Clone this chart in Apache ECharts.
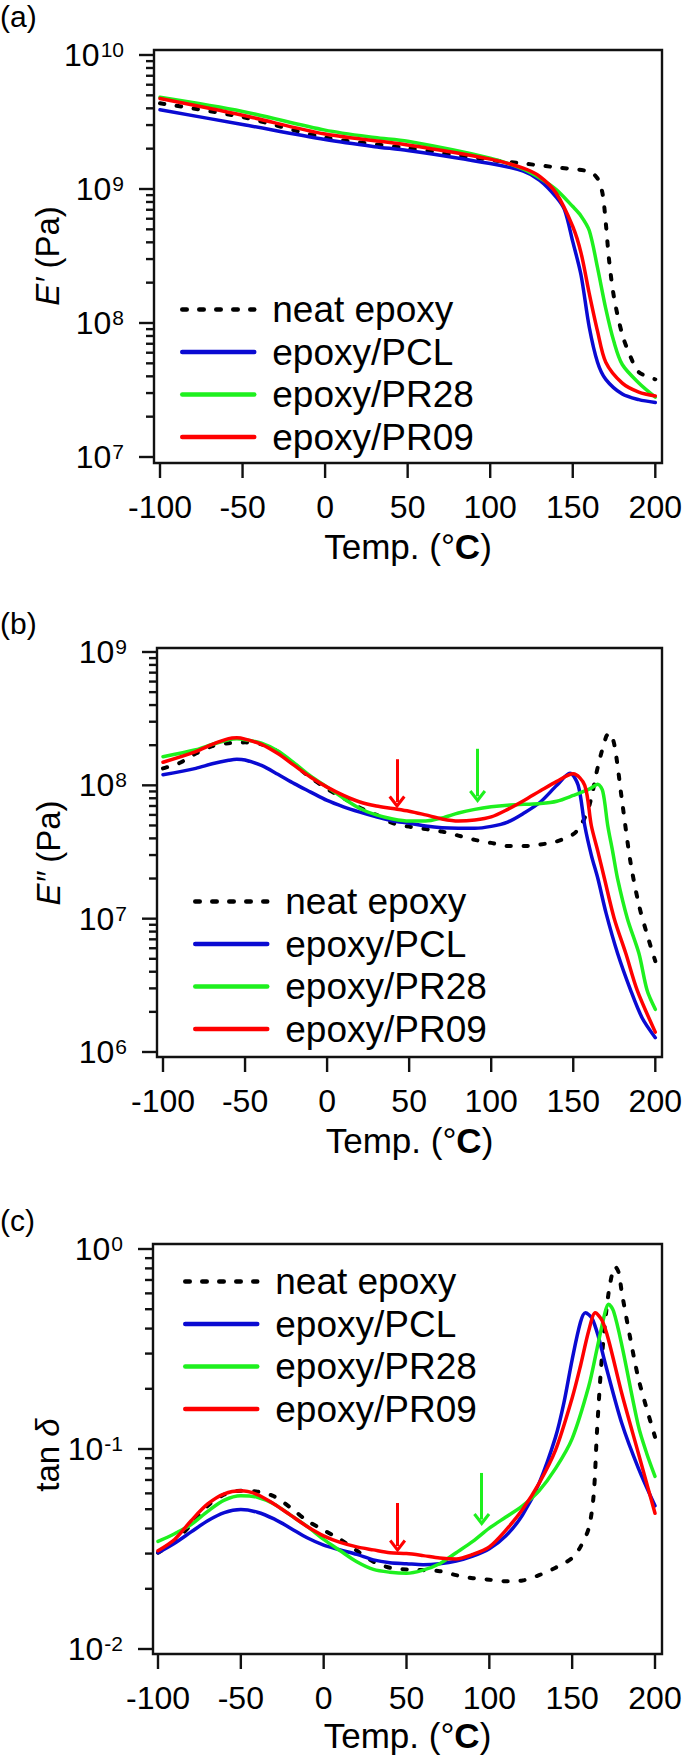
<!DOCTYPE html>
<html><head><meta charset="utf-8">
<script src="https://cdn.jsdelivr.net/npm/echarts@6/dist/echarts.min.js"></script>
<style>html,body{margin:0;padding:0;background:#fff}#c{width:685px;height:1759px}</style>
</head><body><div id="c"></div><script>
const FONT = '"Liberation Sans", Arial, Helvetica, sans-serif';
const seriesNames = ['neat epoxy', 'epoxy/PCL', 'epoxy/PR28', 'epoxy/PR09'];
const xTicks = [-100, -50, 0, 50, 100, 150, 200];
const aYTicks = [1e7, 1e8, 1e9, 1e10];
const bYTicks = [1e6, 1e7, 1e8, 1e9];
const cYTicks = [1e-2, 1e-1, 1e0];

// ---- (a) storage modulus E' (Pa)
const aNeatT = [-100,-50,0,50,100,120,140,160,165,168,170,172,175,180,185,190,200];
const aNeatV = [4.36e9,3.44e9,2.42e9,2.02e9,1.65e9,1.55e9,1.45e9,1.35e9,1.2e9,9.3e8,5.6e8,2.95e8,1.55e8,8.2e7,5.6e7,4.3e7,3.8e7];
const aPCLT = [-100,-50,0,30,50,100,120,130,140,145,150,155,160,165,170,180,190,200];
const aPCLV = [3.9e9,3.03e9,2.34e9,2.07e9,1.94e9,1.55e9,1.36e9,1.16e9,8.7e8,7.0e8,4.05e8,2.28e8,9.3e7,5.1e7,3.8e7,2.95e7,2.68e7,2.55e7];
const aPR28T = [-100,-50,0,30,50,100,120,130,140,150,155,160,165,170,175,180,190,200];
const aPR28V = [4.83e9,3.79e9,2.75e9,2.42e9,2.27e9,1.70e9,1.41e9,1.21e9,9.9e8,7.4e8,6.3e8,4.9e8,2.59e8,1.28e8,7.2e7,4.9e7,3.57e7,2.8e7];
const aPR09T = [-100,-50,0,50,100,120,130,140,150,155,160,165,170,180,190,200];
const aPR09V = [4.73e9,3.55e9,2.57e9,2.13e9,1.67e9,1.43e9,1.24e9,9.3e8,5.25e8,3.34e8,1.66e8,8.7e7,5.1e7,3.56e7,3.05e7,2.85e7];

// ---- (b) loss modulus E'' (Pa)
const bNeatT = [-100,-90,-80,-70,-60,-50,-40,-30,-20,-10,0,10,20,30,40,50,60,70,80,90,100,110,120,130,140,150,155,160,165,170,172,175,180,185,190,195,200];
const bNeatV = [1.34e8,1.47e8,1.73e8,1.97e8,2.07e8,2.1e8,2.03e8,1.79e8,1.43e8,1.14e8,9.4e7,8.0e7,6.8e7,6.0e7,5.2e7,4.9e7,4.7e7,4.5e7,4.2e7,3.9e7,3.7e7,3.5e7,3.5e7,3.6e7,3.8e7,4.3e7,5.1e7,7.2e7,1.38e8,2.31e8,2.47e8,2.03e8,7.2e7,2.6e7,1.27e7,7.6e6,4.8e6];
const bPCLT = [-100,-80,-70,-60,-55,-50,-40,-30,-20,-10,0,10,20,30,40,50,60,70,80,90,100,110,120,130,140,148,153,157,161,165,170,177,185,192,200];
const bPCLV = [1.2e8,1.34e8,1.45e8,1.54e8,1.57e8,1.55e8,1.41e8,1.21e8,1.03e8,8.9e7,7.7e7,6.9e7,6.3e7,5.8e7,5.4e7,5.2e7,4.95e7,4.8e7,4.76e7,4.76e7,4.92e7,5.3e7,6.2e7,7.5e7,1.0e8,1.23e8,1.0e8,5.0e7,3.0e7,2.0e7,1.1e7,5.5e6,2.9e6,1.8e6,1.28e6];
const bPR28T = [-100,-80,-70,-60,-55,-50,-40,-30,-20,-10,0,10,20,30,40,50,60,70,80,90,100,110,120,130,140,150,160,165,168,171,174,177,183,190,195,200];
const bPR28V = [1.64e8,1.85e8,2.03e8,2.2e8,2.24e8,2.2e8,2.07e8,1.81e8,1.47e8,1.17e8,9.7e7,8.0e7,6.7e7,6.0e7,5.6e7,5.4e7,5.4e7,5.7e7,6.2e7,6.6e7,6.9e7,7.1e7,7.2e7,7.3e7,7.6e7,8.4e7,9.4e7,1.02e8,9.0e7,5.0e7,3.2e7,2.0e7,1.0e7,5.5e6,2.9e6,2.09e6];
const bPR09T = [-100,-80,-70,-60,-55,-50,-40,-30,-20,-10,0,10,20,30,40,50,60,70,80,90,100,110,120,130,140,150,157,161,165,169,175,182,189,200];
const bPR09V = [1.49e8,1.79e8,2.03e8,2.24e8,2.27e8,2.22e8,2.03e8,1.73e8,1.41e8,1.15e8,9.7e7,8.4e7,7.5e7,7.0e7,6.7e7,6.4e7,6.0e7,5.6e7,5.4e7,5.5e7,5.8e7,6.6e7,7.7e7,9.1e7,1.07e8,1.22e8,1.0e8,5.0e7,3.2e7,2.0e7,1.0e7,5.5e6,2.9e6,1.41e6];
const bArrowRed = [42.6, 1.57e8, 7.5e7];
const bArrowGreen = [91.7, 1.88e8, 8.26e7];

// ---- (c) tan delta
const cNeatT = [-100,-90,-80,-70,-60,-50,-40,-30,-20,-10,0,10,20,30,40,50,60,70,80,90,100,110,120,130,140,150,155,160,163,165,168,172,176,178,180,185,190,195,200];
const cNeatV = [0.0303,0.0345,0.0419,0.052,0.0592,0.0618,0.0612,0.058,0.0509,0.0438,0.0393,0.0353,0.031,0.0273,0.0255,0.025,0.0248,0.0245,0.0234,0.0226,0.0222,0.0218,0.022,0.0234,0.0255,0.0285,0.0324,0.0402,0.0592,0.123,0.291,0.604,0.817,0.766,0.604,0.36,0.225,0.159,0.115];
const cPCLT = [-100,-90,-80,-70,-60,-50,-40,-30,-20,-10,0,10,20,30,40,50,60,70,80,90,100,110,120,130,140,145,150,155,158,162,166,170,180,190,200];
const cPCLV = [0.0303,0.0338,0.0385,0.0438,0.0481,0.0498,0.0483,0.0447,0.0402,0.036,0.0331,0.0313,0.0297,0.0279,0.027,0.0267,0.0264,0.0267,0.0275,0.0291,0.0317,0.0368,0.0467,0.0673,0.115,0.17,0.28,0.43,0.48,0.45,0.36,0.267,0.134,0.08,0.052];
const cPR28T = [-100,-90,-80,-70,-60,-50,-40,-30,-20,-10,0,10,20,30,40,50,60,70,80,90,100,110,120,130,140,150,160,165,170,172,175,180,190,195,200];
const cPR28V = [0.0345,0.0377,0.0419,0.0488,0.0555,0.0584,0.0574,0.0531,0.0467,0.041,0.0353,0.031,0.0273,0.025,0.0242,0.0239,0.0248,0.0267,0.0303,0.0345,0.0402,0.0457,0.052,0.0618,0.08,0.1128,0.206,0.317,0.488,0.53,0.488,0.33,0.13,0.095,0.073];
const cPR09T = [-100,-90,-80,-70,-60,-50,-40,-30,-20,-10,0,10,20,30,40,50,60,70,80,90,100,110,120,130,140,150,155,160,164,168,172,180,190,200];
const cPR09V = [0.031,0.0353,0.0438,0.0531,0.0597,0.0618,0.0592,0.0531,0.0467,0.041,0.0368,0.0341,0.0324,0.0313,0.0303,0.03,0.0293,0.0285,0.0282,0.0297,0.0324,0.0393,0.0498,0.0673,0.099,0.18,0.26,0.39,0.48,0.44,0.35,0.189,0.095,0.0477];
const cArrowRed = [44.6, 0.0537, 0.0327];
const cArrowGreen = [95.4, 0.0759, 0.0444];

const STY = {
  'neat epoxy': {color: '#000000', width: 4, type: [4.5, 12.5], cap: 'round'},
  'epoxy/PCL': {color: '#0a0ad2', width: 3.5, type: 'solid', cap: 'round'},
  'epoxy/PR28': {color: '#1ef01e', width: 3.5, type: 'solid', cap: 'round'},
  'epoxy/PR09': {color: '#ff0000', width: 3.5, type: 'solid', cap: 'round'}
};

const panels = [
  {frame: [154, 50, 508, 413], grid: {left: 160, top: 55, width: 498, height: 402}, yMin: 1e7, yMax: 1e10, yTicks: aYTicks,
   label: ['(a)', 16], yTitle: ['{i|E′} (Pa)', 47, 256], xTitleY: 546, legend: [180, 291],
   data: [[aNeatT, aNeatV], [aPCLT, aPCLV], [aPR28T, aPR28V], [aPR09T, aPR09V]]},
  {frame: [157, 648, 505, 409], grid: {left: 163, top: 652, width: 494, height: 400}, yMin: 1e6, yMax: 1e9, yTicks: bYTicks,
   label: ['(b)', 623], yTitle: ['{i|E″} (Pa)', 48, 853], xTitleY: 1140, legend: [193, 883],
   data: [[bNeatT, bNeatV], [bPCLT, bPCLV], [bPR28T, bPR28V], [bPR09T, bPR09V]], arrows: [bArrowRed, bArrowGreen]},
  {frame: [153, 1244, 509, 410], grid: {left: 158, top: 1249, width: 497, height: 400}, yMin: 1e-2, yMax: 1e0, yTicks: cYTicks,
   label: ['(c)', 1220], yTitle: ['tan {i|δ}', 47, 1455], xTitleY: 1735, legend: [183, 1263],
   data: [[cNeatT, cNeatV], [cPCLT, cPCLV], [cPR28T, cPR28V], [cPR09T, cPR09V]], arrows: [cArrowRed, cArrowGreen]}
];

function minorTicks(ticks) {
  const out = [];
  for (let i = 0; i < ticks.length - 1; i++) for (let k = 2; k <= 9; k++) out.push(+(k * ticks[i]).toPrecision(6));
  return out;
}
const CHEVRON = 'path://M10,0 L20,11 L17.2,13 L10,5.2 L2.8,13 L0,11 Z';
const INK = '#111111', INK_W = 2.4;

// frame + ticks drawn by a custom series, positions taken from the axes' own scales
function frameSeries(p, i) {
  return {type: 'custom', xAxisIndex: i, yAxisIndex: i, silent: true, clip: false, z: 20,
    data: [[p.data[0][0][0], p.yMin]],
    renderItem: (params, api) => {
      const [fx, fy, fw, fh] = p.frame;
      const ln = (x1, y1, x2, y2) => ({type: 'line', shape: {x1, y1, x2, y2}, style: {stroke: INK, lineWidth: INK_W, fill: null}});
      const ch = [{type: 'rect', shape: {x: fx, y: fy, width: fw, height: fh}, style: {fill: 'none', stroke: INK, lineWidth: INK_W}}];
      xTicks.forEach(t => { const x = api.coord([t, p.yMin])[0]; ch.push(ln(x, fy + fh, x, fy + fh + 15)); });
      p.yTicks.forEach(v => { const y = api.coord([xTicks[0], v])[1]; ch.push(ln(fx, y, fx - 15, y)); });
      minorTicks(p.yTicks).forEach(v => { const y = api.coord([xTicks[0], v])[1]; ch.push(ln(fx, y, fx - 8, y)); });
      return {type: 'group', children: ch};
    }};
}

const grids = [], xAxes = [], yAxes = [], series = [], legends = [], graphics = [];
panels.forEach((p, i) => {
  grids.push(Object.assign({}, p.grid));
  const xOff = p.frame[1] + p.frame[3] - (p.grid.top + p.grid.height);
  const yOff = p.grid.left - p.frame[0];
  xAxes.push({gridIndex: i, type: 'value', min: -100, max: 200, interval: 50, offset: xOff,
    axisLine: {show: false, onZero: false}, splitLine: {show: false}, axisTick: {show: false},
    axisLabel: {margin: 28, fontSize: 32, fontFamily: FONT, color: '#000'}});
  yAxes.push({gridIndex: i, type: 'log', min: p.yMin, max: p.yMax, offset: yOff,
    axisLine: {show: false, onZero: false}, splitLine: {show: false}, axisTick: {show: false},
    axisLabel: {customValues: p.yTicks, margin: 30,
      formatter: v => '{b|10}{s|' + Math.round(Math.log10(v)) + '}',
      rich: {b: {fontFamily: FONT, fontSize: 32, lineHeight: 32, verticalAlign: 'bottom', color: '#000'},
             s: {fontFamily: FONT, fontSize: 21, lineHeight: 22, verticalAlign: 'top', padding: [0, 0, 20, 1], color: '#000'}}}});
  seriesNames.forEach((name, k) => {
    const st = STY[name];
    const s = {name, type: 'line', xAxisIndex: i, yAxisIndex: i, symbol: 'none', smooth: 0.3, clip: false,
      lineStyle: {color: st.color, width: st.width, type: st.type, cap: st.cap, join: 'round'},
      itemStyle: {color: st.color},
      data: p.data[k][0].map((t, j) => [t, p.data[k][1][j]])};
    if (p.arrows && (name === 'epoxy/PR09' || name === 'epoxy/PR28')) {
      const a = name === 'epoxy/PR09' ? p.arrows[0] : p.arrows[1];
      s.markLine = {silent: true, symbol: ['none', CHEVRON], symbolSize: [17, 13], label: {show: false},
        lineStyle: {color: st.color, width: 3, type: 'solid'},
        data: [[{coord: [a[0], a[1]]}, {coord: [a[0], a[2]]}]]};
    }
    series.push(s);
  });
  series.push(frameSeries(p, i));
  legends.push({orient: 'vertical', left: p.legend[0], top: p.legend[1], itemWidth: 72, itemHeight: 14, itemGap: 5.5,
    selectedMode: false, data: seriesNames, padding: 0,
    itemStyle: {opacity: 0, borderWidth: 0},
    lineStyle: {width: 4.5},
    textStyle: {fontFamily: FONT, fontSize: 37, lineHeight: 37, color: '#000', padding: [0, 0, 0, 13]}});
  graphics.push({type: 'text', x: 0, y: p.label[1],
    style: {text: p.label[0], fontFamily: FONT, fontSize: 30, fill: '#000', align: 'left', verticalAlign: 'middle'}});
  graphics.push({type: 'text', x: p.yTitle[1], y: p.yTitle[2], rotation: Math.PI / 2,
    style: {text: p.yTitle[0], fontFamily: FONT, fontSize: 33, fill: '#000', align: 'center', verticalAlign: 'middle',
      rich: {i: {fontFamily: FONT, fontSize: 33, fontStyle: 'italic', fill: '#000'}}}});
  graphics.push({type: 'text', x: p.frame[0] + p.frame[2] / 2, y: p.xTitleY,
    style: {text: 'Temp. (°{c|C})', fontFamily: FONT, fontSize: 35, fill: '#000', align: 'center', verticalAlign: 'middle',
      rich: {c: {fontFamily: FONT, fontSize: 35, fontWeight: 'bold', fill: '#000'}}}});
});

const chart = echarts.init(document.getElementById('c'), null, {renderer: 'svg'});
chart.setOption({
  animation: false, backgroundColor: '#fff',
  grid: grids, xAxis: xAxes, yAxis: yAxes, series, legend: legends, graphic: graphics
});
</script></body></html>
